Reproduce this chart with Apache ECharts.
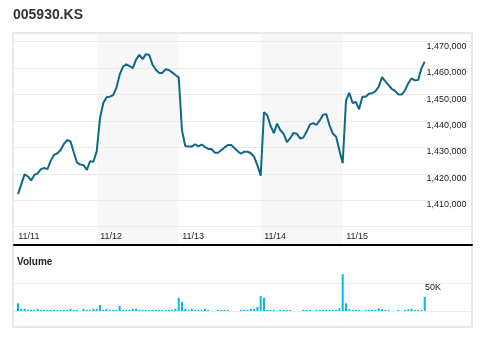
<!DOCTYPE html>
<html><head><meta charset="utf-8">
<script src="https://cdn.jsdelivr.net/npm/echarts@6/dist/echarts.min.js"></script>
<style>html,body{margin:0;padding:0;background:#fff}#c{width:485px;height:337px}</style>
</head><body><div id="c"></div>
<script>
const title = '005930.KS';
const dayLabels = ['11/11', '11/12', '11/13', '11/14', '11/15'];
const pointsPerDay = 25;
const shadedDays = [1, 3];
const priceTicks = [1410000, 1420000, 1430000, 1440000, 1450000, 1460000, 1470000];
const volumeTickLabel = '50K';

const price = [
  1412300,1416000,1419800,1419000,1417500,1419600,1420200,1421800,1422200,1421800,
  1425000,1427200,1427800,1429000,1431300,1432800,1432300,1428200,1424200,1423500,
  1423300,1421500,1424800,1424600,1428500,
  1441000,1446800,1449000,1449200,1449800,1452500,1457500,1460500,1461400,1460800,
  1460000,1463200,1465000,1463400,1465300,1465000,1461400,1459500,1458200,1458200,
  1459600,1459300,1458400,1457400,1456500,
  1436500,1430500,1430300,1430300,1431200,1430400,1431100,1430200,1429400,1429400,
  1428000,1428000,1429000,1430000,1430900,1430900,1429800,1428500,1427600,1428400,
  1428400,1427800,1426400,1423200,1419300,
  1443300,1442200,1438200,1435400,1439000,1436500,1435100,1432000,1433500,1435500,
  1435200,1433400,1433700,1436000,1438600,1439200,1438500,1440200,1442400,1442600,
  1438300,1435200,1434000,1428800,1424000,
  1447600,1450700,1446800,1447200,1444400,1449200,1449200,1450300,1450500,1451300,
  1453000,1456600,1455000,1453600,1452100,1451400,1450000,1450000,1451600,1454300,
  1456100,1455400,1455500,1459900,1462400
];

const volume = [
  14000,4000,4000,2000,2000,2000,4000,2000,2000,2000,
  2000,2000,2000,2000,2000,2000,4000,2000,2000,0,
  4000,2000,2000,4000,4000,
  10500,2000,4000,2000,2000,2000,9300,2000,2000,2000,
  4000,4000,2000,2000,2000,2000,2000,2000,2000,2000,
  2000,2000,2000,4000,24000,
  16500,4000,2000,4000,2000,2000,2000,4000,2000,0,
  0,2000,2000,2000,2000,0,0,0,2000,2000,
  2000,4000,4000,7500,27000,
  24000,2000,2000,2000,0,2000,2000,2000,2000,0,
  0,0,2000,2000,2000,0,2000,2000,2000,2000,
  2000,2000,2000,5000,66500,
  14000,3300,2000,2000,2000,0,2000,2000,2000,2000,
  5000,3300,2000,2000,0,0,2000,0,2000,3300,
  4000,2000,2000,2000,25600
];

const FONT = 'Arial, "Liberation Sans", Helvetica, sans-serif';
const X_MIN = -0.213, X_MAX = 139.42;
const GRID_L = 14, GRID_R = 13;

const chart = echarts.init(document.getElementById('c'), null, {renderer: 'canvas'});
const labelStyle = {fontFamily: FONT, fontSize: 9, color: '#222'};

chart.setOption({
  animation: false,
  textStyle: {fontFamily: FONT},
  graphic: [
    {type: 'rect', silent: true, z: -10,
     shape: {x: 13, y: 33, width: 459, height: 294},
     style: {fill: 'none', stroke: '#e8e8e8', lineWidth: 2}},
    {type: 'text', x: 13, y: 15, silent: true,
     style: {text: title, font: 'bold 14px ' + FONT, fill: '#333', verticalAlign: 'middle'}},
    {type: 'text', x: 17, y: 262.5, silent: true,
     style: {text: 'Volume', font: 'bold 10px ' + FONT, fill: '#222', verticalAlign: 'middle'}}
  ],
  grid: [
    {left: GRID_L, right: GRID_R, top: 41.7, height: 185},
    {left: GRID_L, right: GRID_R, top: 34, height: 211},
    {left: GRID_L, right: GRID_R, top: 283.3, height: 27.7}
  ],
  xAxis: [
    {gridIndex: 0, type: 'value', min: X_MIN, max: X_MAX, show: false},
    {gridIndex: 1, type: 'value', min: X_MIN, max: X_MAX, z: 5,
     axisLine: {show: true, onZero: false, lineStyle: {color: '#000', width: 2}},
     axisTick: {show: false}, splitLine: {show: false},
     axisLabel: Object.assign({
       inside: true,
       customValues: dayLabels.map((d, i) => i * pointsPerDay),
       formatter: v => dayLabels[Math.round(v / pointsPerDay)],
       align: 'left', verticalAlign: 'bottom', margin: 4, padding: [0, 0, 0, 3.5]
     }, labelStyle)},
    {gridIndex: 2, type: 'value', min: X_MIN, max: X_MAX, show: false}
  ],
  yAxis: [
    {gridIndex: 0, type: 'value', position: 'right', min: 1400000, max: 1470000, interval: 10000,
     axisLine: {show: false}, axisTick: {show: false},
     splitLine: {show: true, lineStyle: {color: '#ececec', width: 1}},
     axisLabel: Object.assign({
       inside: true, align: 'left', verticalAlign: 'top', margin: 45.5,
       formatter: v => priceTicks.includes(v) ? v.toLocaleString('en-US') : ''
     }, labelStyle)},
    {gridIndex: 1, type: 'value', min: 0, max: 1, show: false},
    {gridIndex: 2, type: 'value', position: 'right', min: 0, max: 50000, interval: 50000,
     axisLine: {show: false}, axisTick: {show: false},
     splitLine: {show: true, lineStyle: {color: '#ececec', width: 1}},
     axisLabel: Object.assign({
       inside: true, align: 'left', verticalAlign: 'top', margin: 47,
       formatter: v => v === 50000 ? volumeTickLabel : ''
     }, labelStyle)}
  ],
  series: [
    {type: 'line', xAxisIndex: 1, yAxisIndex: 1, data: [], z: -5, silent: true,
     markArea: {silent: true, z: -5, itemStyle: {color: '#f7f7f7'},
       data: shadedDays.map(d => [{xAxis: d * pointsPerDay}, {xAxis: (d + 1) * pointsPerDay}])}},
    {type: 'line', xAxisIndex: 0, yAxisIndex: 0,
     data: price.map((v, i) => [i + 1, v]),
     symbol: 'none', showSymbol: false,
     lineStyle: {color: '#116886', width: 2}},
    {type: 'bar', xAxisIndex: 2, yAxisIndex: 2,
     data: volume.map((v, i) => [i + 1, v]),
     barWidth: 2, clip: false,
     itemStyle: {color: '#0bb4ea'}}
  ]
});
</script>
</body></html>
